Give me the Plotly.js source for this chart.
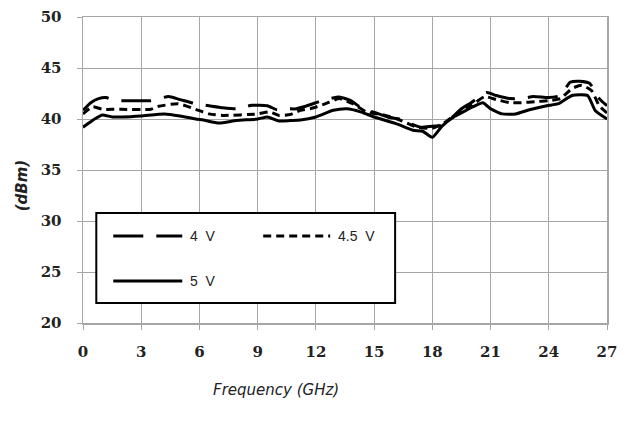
<!DOCTYPE html>
<html>
<head>
<meta charset="utf-8">
<script src="https://cdn.plot.ly/plotly-3.0.1.min.js"></script>
<style>html,body{margin:0;padding:0;background:#fff;}#chart{width:632px;height:427px;}</style>
</head>
<body>
<div id="chart"></div>
<script>
// Frequency (GHz) and output (dBm) for each supply voltage
var freq4V = [0, 0.4, 0.8, 1.2, 1.6, 2.0, 3.5, 4.4, 5.0, 5.8, 6.5, 7.2, 7.9, 8.7, 9.5, 10.0, 10.5, 11.0, 11.7, 12.3, 13.2, 13.8, 14.4, 15.1, 15.7, 16.3, 16.8, 17.4, 18.0, 18.6, 19.1, 19.5, 20.0, 20.8, 21.3, 22.0, 22.6, 23.2, 24.0, 24.6, 25.1, 25.6, 26.1, 26.6, 27.0];
var pout4V = [40.85, 41.6, 42.0, 42.1, 41.8, 41.8, 41.8, 42.2, 41.9, 41.5, 41.3, 41.1, 41.0, 41.35, 41.3, 40.9, 41.0, 41.0, 41.4, 41.8, 42.15, 41.8, 41.0, 40.6, 40.2, 40.0, 39.6, 39.2, 39.3, 39.4, 40.3, 41.0, 41.6, 42.6, 42.3, 42.0, 42.0, 42.2, 42.1, 42.3, 43.6, 43.7, 43.5, 42.0, 41.3];

var freq45V = [0, 0.5, 1.0, 1.5, 2.0, 3.5, 3.8, 4.9, 5.8, 6.5, 7.2, 9.0, 9.6, 10.1, 10.7, 11.2, 11.7, 12.5, 13.2, 13.9, 14.6, 15.5, 16.2, 17.2, 18.0, 18.6, 19.1, 19.5, 20.0, 20.7, 21.3, 22.0, 22.6, 23.3, 24.0, 24.6, 25.2, 25.7, 26.2, 26.6, 27.0];
var pout45V = [40.5, 41.2, 40.95, 40.95, 40.95, 40.95, 41.2, 41.5, 40.95, 40.5, 40.35, 40.5, 40.7, 40.35, 40.45, 40.85, 41.0, 41.5, 42.0, 41.5, 40.7, 40.4, 40.0, 39.2, 39.1, 39.6, 40.3, 40.8, 41.3, 42.2, 41.9, 41.6, 41.6, 41.7, 41.8, 42.0, 43.0, 43.3, 42.8, 41.3, 40.6];

var freq5V = [0, 0.3, 0.6, 1.0, 1.5, 2.0, 3.0, 4.2, 5.0, 5.8, 6.2, 7.0, 7.9, 9.0, 9.5, 10.1, 10.7, 11.2, 12.0, 12.9, 13.6, 14.3, 15.0, 16.2, 17.0, 17.5, 18.0, 18.5, 19.1, 19.5, 20.1, 20.6, 21.0, 21.6, 22.3, 23.0, 23.9, 24.5, 25.2, 26.0, 26.4, 27.0];
var pout5V = [39.2, 39.6, 40.0, 40.4, 40.2, 40.2, 40.3, 40.5, 40.3, 40.0, 39.9, 39.6, 39.85, 40.0, 40.2, 39.8, 39.85, 39.9, 40.2, 40.85, 41.0, 40.7, 40.2, 39.5, 38.9, 38.8, 38.2, 39.3, 40.2, 40.6, 41.2, 41.6, 41.0, 40.5, 40.5, 40.9, 41.3, 41.5, 42.3, 42.3, 40.8, 40.0];

var seriesNames = ['4 V', '4.5 V', '5 V'];
var xTicks = [0, 3, 6, 9, 12, 15, 18, 21, 24, 27];
var yTicks = [20, 25, 30, 35, 40, 45, 50];

var dash4 = '30px,13px';
var dash45 = '8px,5px';

var traces = [
  {x: freq4V, y: pout4V, name: seriesNames[0], mode: 'lines',
   line: {color: '#000', width: 3, dash: dash4, shape: 'spline', smoothing: 0.5}},
  {x: freq45V, y: pout45V, name: seriesNames[1], mode: 'lines',
   line: {color: '#000', width: 3, dash: dash45, shape: 'spline', smoothing: 0.5}},
  {x: freq5V, y: pout5V, name: seriesNames[2], mode: 'lines',
   line: {color: '#000', width: 3, shape: 'spline', smoothing: 0.5}}
];

// plot area in pixels
var L = 82.7, R = 607, T = 17, B = 323;
function px(x) { return (x - L) / (R - L); }
function py(y) { return (B - y) / (B - T); }

var legendShapes = [
  {type: 'rect', xref: 'paper', yref: 'paper', x0: px(96), x1: px(395), y0: py(303), y1: py(213),
   line: {color: '#000', width: 2}, fillcolor: '#fff', layer: 'above'},
  {type: 'line', xref: 'paper', yref: 'paper', x0: px(113), x1: px(182), y0: py(236), y1: py(236),
   line: {color: '#000', width: 3, dash: dash4}, layer: 'above'},
  {type: 'line', xref: 'paper', yref: 'paper', x0: px(263), x1: px(330), y0: py(236), y1: py(236),
   line: {color: '#000', width: 3, dash: dash45}, layer: 'above'},
  {type: 'line', xref: 'paper', yref: 'paper', x0: px(113), x1: px(182), y0: py(281), y1: py(281),
   line: {color: '#000', width: 3}, layer: 'above'}
];

var legFont = {family: 'Liberation Sans, Arial, sans-serif', size: 14, color: '#222'};
var annotations = [
  {text: seriesNames[0].replace(' ', '\u00a0 '), xref: 'paper', yref: 'paper', x: px(188), y: py(236), xanchor: 'left', yanchor: 'middle', showarrow: false, font: legFont},
  {text: seriesNames[1].replace(' ', '\u00a0 '), xref: 'paper', yref: 'paper', x: px(336), y: py(236), xanchor: 'left', yanchor: 'middle', showarrow: false, font: legFont},
  {text: seriesNames[2].replace(' ', '\u00a0 '), xref: 'paper', yref: 'paper', x: px(188), y: py(281), xanchor: 'left', yanchor: 'middle', showarrow: false, font: legFont},
  {text: '<i>Frequency (GHz)</i>', xref: 'paper', yref: 'paper', x: px(276), y: py(390), xanchor: 'center', yanchor: 'middle', showarrow: false,
   font: {family: 'DejaVu Sans, sans-serif', size: 15, color: '#222'}},
  {text: '<b><i>(dBm)</i></b>', xref: 'paper', yref: 'paper', x: px(22), y: py(185), xanchor: 'center', yanchor: 'middle', showarrow: false, textangle: -90,
   font: {family: 'DejaVu Sans, sans-serif', size: 15, color: '#222'}}
];

var tickFont = {family: 'DejaVu Serif, serif', size: 15, color: '#222', weight: 'bold'};
var layout = {
  width: 632, height: 427,
  margin: {l: L, r: 632 - R, t: T, b: 427 - B, pad: 0},
  paper_bgcolor: '#fff', plot_bgcolor: '#fff',
  showlegend: false,
  xaxis: {
    range: [0, 27], tickmode: 'array', tickvals: xTicks, ticktext: xTicks.map(String),
    showgrid: true, gridcolor: '#a6a6a6', gridwidth: 1,
    showline: true, linecolor: '#a6a6a6', linewidth: 1.5, mirror: true,
    ticks: 'outside', ticklen: 5, tickcolor: '#a6a6a6', tickwidth: 1,
    ticklabelstandoff: 9, tickfont: tickFont, zeroline: false
  },
  yaxis: {
    range: [20, 50], tickmode: 'array', tickvals: yTicks, ticktext: yTicks.map(String),
    showgrid: true, gridcolor: '#a6a6a6', gridwidth: 1,
    showline: true, linecolor: '#a6a6a6', linewidth: 1.5, mirror: true,
    ticks: 'outside', ticklen: 5, tickcolor: '#a6a6a6', tickwidth: 1,
    ticklabelstandoff: 12, tickfont: tickFont, zeroline: false
  },
  shapes: legendShapes,
  annotations: annotations
};

Plotly.newPlot('chart', traces, layout, {displayModeBar: false, staticPlot: true});
</script>
</body>
</html>
